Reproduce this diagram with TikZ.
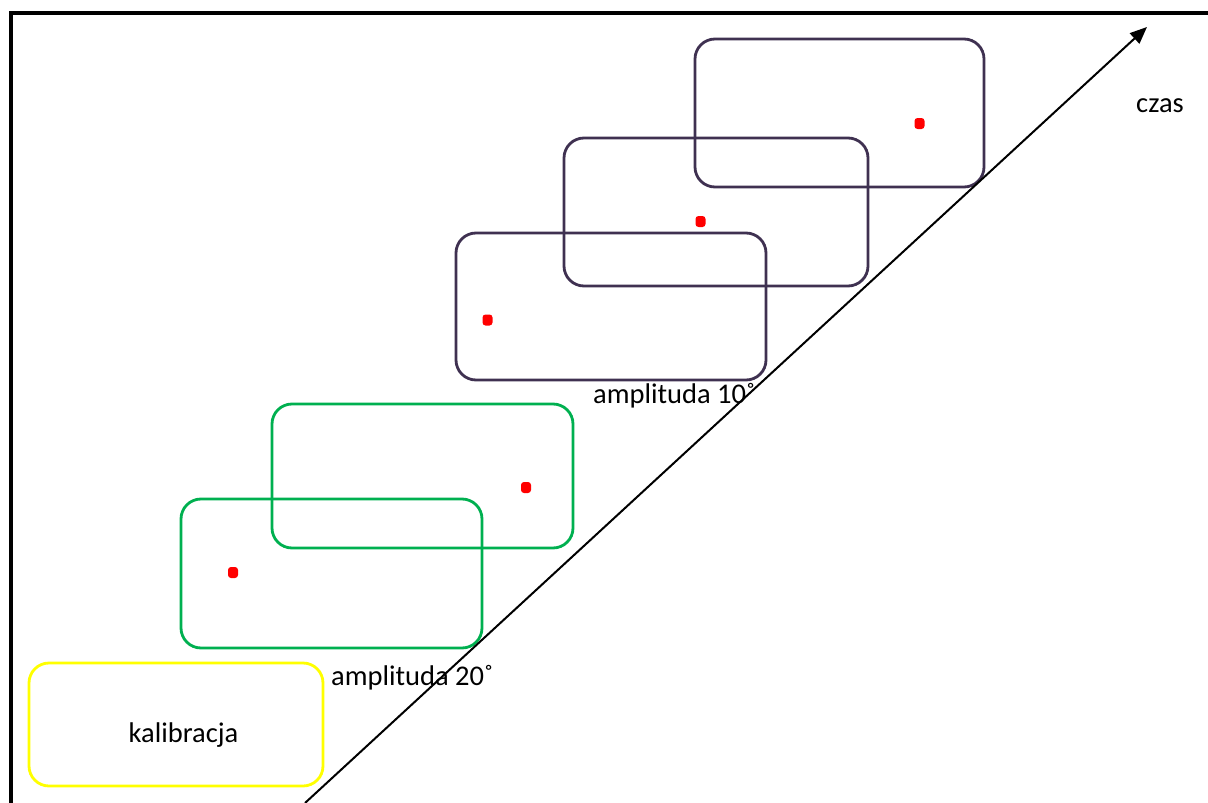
\documentclass[tikz,border=0pt]{standalone}
\usepackage{fontspec}
\setmainfont{Carlito}
\usetikzlibrary{arrows.meta}
\definecolor{boxpurple}{HTML}{3F3151}
\definecolor{boxgreen}{HTML}{00B050}
\definecolor{boxyellow}{HTML}{FFFF00}
\definecolor{dotred}{HTML}{FF0000}
\tikzset{
  frame/.style={draw=black, line width=4pt},
  trial/.style={draw=#1, line width=2.8pt, rounded corners=20pt, inner sep=0pt},
  dot/.style={fill=dotred, draw=none, rounded corners=3pt, minimum width=10pt, minimum height=11pt, inner sep=0pt},
  lbl/.style={font=\fontsize{28.5}{33}\selectfont, inner sep=0pt},
  timeaxis/.style={draw=black, line width=2pt, -{Triangle[length=17pt,width=14pt]}},
}
\begin{document}
\begin{tikzpicture}[x=1pt,y=-1pt]
\useasboundingbox (0,0) rectangle (1208,803);
\clip (0,0) rectangle (1208,803);
\fill[white] (0,0) rectangle (1208,803);
% outer frame (only top and left edges fall inside the page)
\draw[frame] (10.5,12.5) rectangle (1230,830);

% calibration block
\node[trial=boxyellow, minimum width=294pt, minimum height=123pt] (cal) at (176,724.5) {};
\node[lbl, anchor=base] (calt) at (183.5,742) {kalibracja};

% 20 degree blocks
\node[trial=boxgreen, minimum width=301pt, minimum height=149pt] (g1) at (331.5,573.5) {};
\node[trial=boxgreen, minimum width=301pt, minimum height=144pt] (g2) at (422.5,476) {};

% 10 degree blocks
\node[trial=boxpurple, minimum width=310pt, minimum height=147pt] (p1) at (611,306.5) {};
\node[trial=boxpurple, minimum width=304pt, minimum height=148pt] (p2) at (716,212) {};
\node[trial=boxpurple, minimum width=289pt, minimum height=148pt] (p3) at (839.5,113) {};

% targets
\node[dot] (d1) at (233,572.5) {};
\node[dot] (d2) at (526,487.5) {};
\node[dot] (d3) at (487.5,320) {};
\node[dot] (d4) at (700.5,221.5) {};
\node[dot] (d5) at (919.5,123.5) {};

% time axis
\coordinate (t0) at (305,803);
\coordinate (t1) at (1147,27);
\draw[timeaxis] (t0) -- (t1);

% labels
\node[lbl, anchor=base west] (a20) at (331,685) {amplituda 20˚};
\node[lbl, anchor=base west] (a10) at (593,403) {amplituda 10˚};
\node[lbl, anchor=base west] (czas) at (1136,112) {czas};
\end{tikzpicture}
\end{document}
